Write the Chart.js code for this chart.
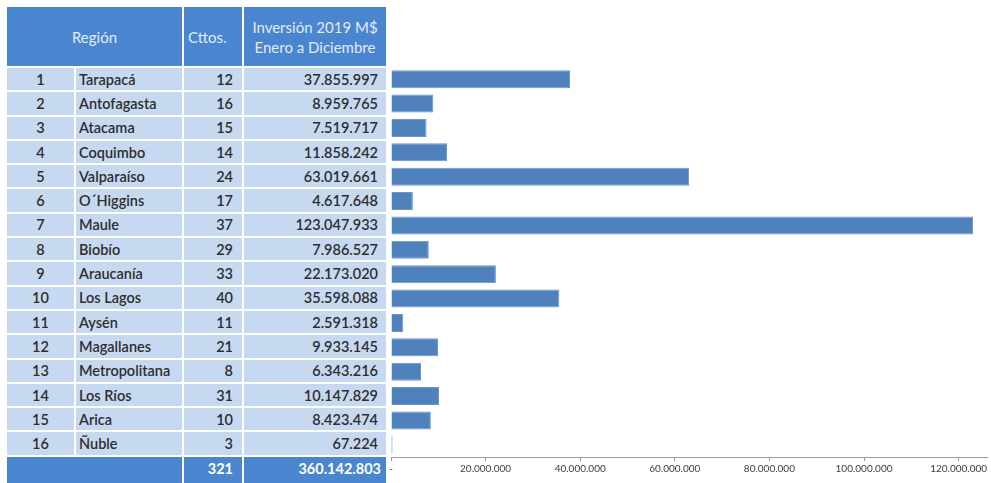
<!DOCTYPE html>
<html><head><meta charset="utf-8">
<script src="https://cdn.jsdelivr.net/npm/chart.js@4"></script>
<style>
html,body{margin:0;padding:0;background:#fff;width:991px;height:483px;overflow:hidden;font-family:Lato,"Open Sans",sans-serif;}
#tbl{position:absolute;left:7px;top:7px;display:grid;grid-template-columns:67px 106px 58px 142px;grid-template-rows:59px repeat(16,22.3px) 30px;gap:2px;background:#fff;}
#tbl div{display:flex;align-items:center;white-space:nowrap;overflow:hidden;}
#tbl .h{background:#4a86d0;color:#e2eaf6;font-size:15px;line-height:20px;justify-content:center;text-align:center;}
#tbl .d{background:#c6d9f1;color:#2e2e2e;font-size:14.5px;font-weight:600;}
#tbl .c1{justify-content:center;}
#tbl .c2{justify-content:flex-start;padding-left:3px;}
#tbl .c3{justify-content:flex-end;padding-right:9px;}
#tbl .c4{justify-content:flex-end;padding-right:8px;}
#tbl .t{background:#4a86d0;color:#fff;font-weight:700;font-size:14.5px;align-items:flex-start;padding-top:3px;}
#wrap{position:absolute;left:380px;top:60px;width:611px;height:423px;}
</style></head>
<body>
<div id="tbl"></div>
<div id="wrap"><canvas id="c"></canvas></div>
<script>
const regionNumbers = [1,2,3,4,5,6,7,8,9,10,11,12,13,14,15,16];
const regions = ["Tarapacá","Antofagasta","Atacama","Coquimbo","Valparaíso","O´Higgins","Maule","Biobío","Araucanía","Los Lagos","Aysén","Magallanes","Metropolitana","Los Ríos","Arica","Ñuble"];
const contracts = [12,16,15,14,24,17,37,29,33,40,11,21,8,31,10,3];
const investment = [37855997,8959765,7519717,11858242,63019661,4617648,123047933,7986527,22173020,35598088,2591318,9933145,6343216,10147829,8423474,67224];
const totalContracts = 321;
const totalInvestment = 360142803;
const headers = ["Región","Cttos.","Inversión 2019 M$<br>Enero a Diciembre"];
const xTicks = [0,20000000,40000000,60000000,80000000,100000000,120000000];

const fmt = v => v.toLocaleString('de-DE');
let html = `<div class="h" style="grid-column:span 2">${headers[0]}</div><div class="h" style="justify-content:flex-start;padding-left:4px">${headers[1]}</div><div class="h">${headers[2]}</div>`;
for (let i = 0; i < regions.length; i++) {
  html += `<div class="d c1">${regionNumbers[i]}</div><div class="d c2">${regions[i]}</div><div class="d c3">${contracts[i]}</div><div class="d c4">${fmt(investment[i])}</div>`;
}
html += `<div class="t" style="grid-column:span 2"></div><div class="t c3">${totalContracts}</div><div class="t c4" style="padding-right:5px">${fmt(totalInvestment)}</div>`;
document.getElementById('tbl').innerHTML = html;

new Chart(document.getElementById('c'), {
  type: 'bar',
  data: {
    labels: regions,
    datasets: [{
      data: investment,
      backgroundColor: '#4f81bd',
      borderColor: '#6a95c9',
      borderWidth: 1,
      minBarLength: 1.5,
      barPercentage: 0.74,
      categoryPercentage: 1
    }]
  },
  options: {
    indexAxis: 'y',
    responsive: true,
    maintainAspectRatio: false,
    animation: false,
    layout: { padding: { left: 11, right: 4, top: 7, bottom: 6 } },
    plugins: { legend: { display: false }, tooltip: { enabled: false } },
    scales: {
      y: { display: false },
      x: {
        min: 0,
        max: 126000000,
        afterBuildTicks: s => { s.ticks = xTicks.map(v => ({ value: v })); },
        border: { display: true, color: '#9a9a9a', width: 1 },
        grid: { drawOnChartArea: false, drawTicks: true, tickLength: 4, color: '#9a9a9a' },
        ticks: {
          color: '#404040',
          font: { family: 'Lato', size: 10 },
          padding: 2,
          maxRotation: 0,
          callback: v => v === 0 ? '-' : fmt(v)
        }
      }
    }
  }
});
</script>
</body></html>
